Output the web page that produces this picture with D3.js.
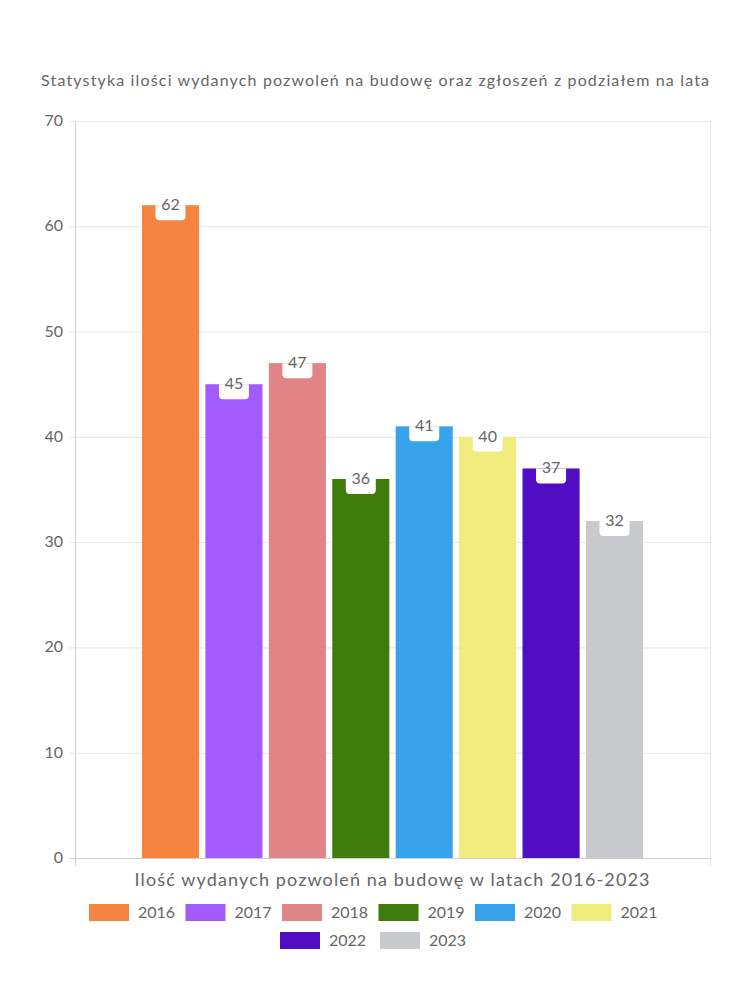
<!DOCTYPE html>
<html><head><meta charset="utf-8">
<script src="https://cdn.jsdelivr.net/npm/d3@7"></script>
<style>body{margin:0;background:#fff}svg{display:block}text{font-family:Lato,"Noto Sans",sans-serif;fill:#666}</style>
</head><body><svg id="c" width="750" height="1000"></svg>
<script>
const categories = ["Ilość wydanych pozwoleń na budowę w latach 2016-2023"];
const years = ["2016","2017","2018","2019","2020","2021","2022","2023"];
const values = [62,45,47,36,41,40,37,32];
const colors = ["#F4843F","#A35BFD","#E08485","#3F7C0C","#38A3EA","#F0EC7E","#510DC4","#C9CACE"];
const yTicks = [0,10,20,30,40,50,60,70];
const title = "Statystyka ilości wydanych pozwoleń na budowę oraz zgłoszeń z podziałem na lata";

const svg = d3.select("#c");
const L=75,R=710,T=121,B=858;
const y = d3.scaleLinear().domain([0,70]).range([B,T]);
const x0 = d3.scaleBand().domain(categories).range([L,R]).paddingInner(0).paddingOuter(0.1337);
const x1 = d3.scaleBand().domain(years).range([0,x0.bandwidth()]).paddingInner(0.1).paddingOuter(0);

svg.append("text").attr("x",375).attr("y",86).attr("text-anchor","middle").attr("font-size",16)
  .attr("textLength",668).attr("lengthAdjust","spacing").text(title);

// grid
svg.append("g").selectAll("line").data(yTicks).join("line")
  .attr("x1",L-6).attr("x2",R).attr("y1",d=>y(d)+0.5).attr("y2",d=>y(d)+0.5)
  .attr("stroke",d=>d===0?"#d0d0d0":"#e6e6e6");
svg.append("line").attr("x1",L+0.5).attr("x2",L+0.5).attr("y1",T).attr("y2",B+8).attr("stroke","#d0d0d0");
svg.append("line").attr("x1",R+0.5).attr("x2",R+0.5).attr("y1",T).attr("y2",B+8).attr("stroke","#e6e6e6");
svg.append("g").selectAll("text").data(yTicks).join("text")
  .attr("x",L-12).attr("y",d=>y(d)+5).attr("text-anchor","end").attr("font-size",16).text(d=>d);

const g = svg.append("g").attr("transform",`translate(${x0(categories[0])},0)`);
g.selectAll("rect").data(values).join("rect")
  .attr("x",(d,i)=>x1(years[i])).attr("width",x1.bandwidth())
  .attr("y",d=>y(d)).attr("height",d=>B-y(d)).attr("fill",(d,i)=>colors[i]);

// labels
const lab = g.selectAll("g.l").data(values).join("g")
  .attr("transform",(d,i)=>`translate(${x1(years[i])+x1.bandwidth()/2},${y(d)})`);
lab.append("path").attr("d","M-15,0 H15 V11 Q15,15 11,15 H-11 Q-15,15 -15,11 Z").attr("fill","#fff");
lab.append("text").attr("y",5).attr("text-anchor","middle").attr("font-size",16).text(d=>d);

svg.append("text").attr("x",392).attr("y",886).attr("text-anchor","middle").attr("font-size",18)
  .attr("textLength",515).attr("lengthAdjust","spacing").text(categories[0]);

// legend
const rows=[years.slice(0,6),years.slice(6)];
rows.forEach((row,ri)=>{
  const start = ri===0?89:280;
  const step = ri===0?96.5:100;
  row.forEach((yr,j)=>{
    const i = years.indexOf(yr);
    const gx = start + j*step;
    const gy = 904 + ri*28;
    svg.append("rect").attr("x",gx).attr("y",gy).attr("width",40).attr("height",17).attr("fill",colors[i]);
    svg.append("text").attr("x",gx+49).attr("y",gy+14).attr("font-size",16).text(yr);
  });
});
</script></body></html>
